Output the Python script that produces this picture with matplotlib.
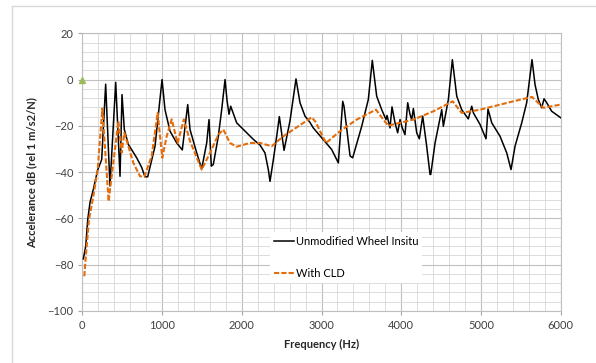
import numpy as np
import matplotlib.pyplot as plt
from matplotlib.lines import Line2D

# values
freq_base = [13, 43, 68, 97, 138, 193, 243, 293, 347, 419, 473, 498, 527, 577, 682, 745,
             786, 820, 912, 1000, 1037, 1100, 1184, 1254, 1322, 1351, 1435, 1497, 1560,
             1589, 1618, 1643, 1706, 1748, 1790, 1815, 1840, 1861, 1936, 2062, 2150, 2229,
             2291, 2333, 2354, 2396, 2438, 2471, 2530, 2605, 2680, 2730, 2793, 2855, 2897,
             3023, 3127, 3211, 3266, 3282, 3358, 3391, 3504, 3587, 3637, 3692, 3755, 3809,
             3822, 3859, 3884, 3922, 3955, 3985, 4013, 4047, 4081, 4110, 4131, 4152, 4194,
             4227, 4269, 4319, 4361, 4370, 4424, 4508, 4528, 4591, 4641, 4696, 4758, 4841,
             4884, 4905, 4988, 5063, 5088, 5135, 5239, 5323, 5377, 5427, 5511, 5573, 5640,
             5678, 5719, 5762, 5791, 5824, 5887, 6000]
acc_base = [-77.5, -72, -60.5, -53, -47.5, -39, -34.6, -2, -46, -1.2, -41.8, -6.5, -21.6,
            -28, -33.8, -38, -42, -42, -28.8, 0, -13, -22.3, -27.4, -30.4, -10.8, -21.6,
            -31.7, -38.6, -27.4, -17.3, -37.4, -36.7, -24.5, -13, 0, -9, -15, -11.5, -18.7,
            -23, -26, -28.3, -31.7, -38.9, -44, -34.6, -24.5, -16, -30.6, -17.8, 0.3, -10,
            -15.8, -18.5, -20.9, -26, -30.2, -36, -9.4, -11.5, -33, -33.8, -20.2, -8.6, 8.3,
            -7.2, -13, -17.3, -15.5, -20.9, -11.8, -18.7, -23, -17.3, -20.9, -23.8, -10,
            -15.1, -17.3, -12.5, -23, -25.6, -15.8, -28.8, -41, -41, -27.4, -13, -20.2, -8.6,
            8.6, -7.2, -13, -17, -11.5, -14.4, -19.4, -25.6, -12.7, -18.7, -24.5, -31.7,
            -38.9, -28.8, -18.7, -10, 8.6, -2.2, -8.6, -12.2, -8.3, -10, -13.7, -16.5]

freq_cld = [25, 34, 55, 84, 138, 193, 251, 330, 452, 494, 527, 640, 724, 778, 870, 945,
            1003, 1058, 1121, 1195, 1273, 1351, 1497, 1602, 1706, 1769, 1852, 1936, 2103,
            2229, 2375, 2521, 2647, 2877, 2930, 2981, 3057, 3232, 3441, 3683, 3775, 3838,
            4152, 4403, 4645, 4758, 4988, 5406, 5640, 5782, 6000]
acc_cld = [-85, -80.6, -72, -60.5, -50.4, -39, -12.5, -52.6, -18, -31.6, -23, -36, -41.8,
           -42, -33, -14.4, -33.8, -24.5, -17.2, -27.5, -17.2, -26.6, -38.9, -31.7, -23.8,
           -21.6, -27.4, -29, -27.4, -27.4, -28.8, -24.5, -21.6, -16.3, -18.5, -22.3, -27.4,
           -22.3, -17.3, -13, -17.3, -19.9, -17.3, -13.7, -9.4, -14.4, -13, -9.4, -7.5,
           -12.2, -10.8]

marker_f = [0]
marker_y = [0]

plt.rcParams['font.family'] = ['Lato', 'DejaVu Sans']

fig = plt.figure(figsize=(5.96, 3.63), dpi=100)
ax = fig.add_axes([0.1381, 0.1433, 0.8027, 0.765])

ax.plot(freq_base, acc_base, color='black', lw=1.1, label='Unmodified Wheel Insitu', zorder=3)
ax.plot(freq_cld, acc_cld, color='#E46C0A', lw=1.5, dashes=(2.5, 1.0),
        label='With CLD', zorder=4)
ax.plot(marker_f, marker_y, linestyle='none', marker='^', ms=4, color='#9BBB59',
        clip_on=False, zorder=5)

ax.set_xlim(0, 6000)
ax.set_ylim(-100, 20)
ax.set_xticks(np.arange(0, 6001, 1000))
ax.set_yticks(np.arange(-100, 21, 20))
ax.set_xticks(np.arange(0, 6001, 200), minor=True)
ax.set_yticks(np.arange(-100, 21, 4), minor=True)
ax.grid(which='major', color='#C0C0C0', lw=0.8)
ax.grid(which='minor', color='#DCDCDC', lw=0.7)
ax.set_axisbelow(True)
ax.tick_params(which='major', length=3, color='#A6A6A6', labelsize=8, labelcolor='#404040')
ax.tick_params(which='minor', length=0)
for s in ax.spines.values():
    s.set_color('#BFBFBF')

ax.set_xlabel('Frequency (Hz)', fontsize=8, fontweight='bold', color='#262626', labelpad=6)
ax.set_ylabel('Accelerance dB (rel 1 m/s2/N)', fontsize=8, fontweight='bold',
              color='#262626', labelpad=7)

leg = ax.legend(loc='upper left', bbox_to_anchor=(270 / 596, 1 - 232 / 363),
                bbox_transform=fig.transFigure, fontsize=8, frameon=True,
                fancybox=False, labelspacing=1.9, handlelength=1.8, handletextpad=0.15,
                borderpad=0.35, borderaxespad=0)
leg.get_frame().set_facecolor('white')
leg.get_frame().set_edgecolor('none')
leg.get_frame().set_alpha(1)

# outer chart-area border
fig.add_artist(Line2D([12 / 596, 1], [1 - 6 / 363, 1 - 6 / 363], color='#D9D9D9', lw=1))
fig.add_artist(Line2D([12 / 596, 12 / 596], [0, 1 - 6 / 363], color='#D9D9D9', lw=1))

plt.savefig('out.png', dpi=100)
